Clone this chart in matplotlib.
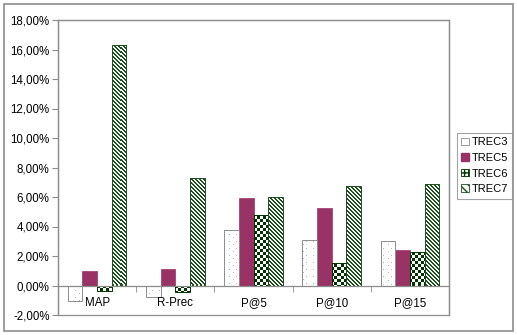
import numpy as np
import matplotlib
matplotlib.use("Agg")
import matplotlib.pyplot as plt
from matplotlib.patches import Rectangle, Patch
from matplotlib.colors import ListedColormap

plt.rcParams['font.family'] = ['Liberation Sans', 'DejaVu Sans']

categories = ["MAP", "R-Prec", "P@5", "P@10", "P@15"]
series = ["TREC3", "TREC5", "TREC6", "TREC7"]
trec3 = [-1.05, -0.75, 3.75, 3.1, 3.05]
trec5 = [1.0, 1.1, 5.9, 5.25, 2.4]
trec6 = [-0.4, -0.45, 4.75, 1.5, 2.3]
trec7 = [16.3, 7.3, 6.0, 6.75, 6.85]
yticks = [-2, 0, 2, 4, 6, 8, 10, 12, 14, 16, 18]

W, H = 517, 335
fig = plt.figure(figsize=(W / 100, H / 100), dpi=100)
fig.patches.append(Rectangle((4 / W, 4 / H), 509 / W, 327 / H, transform=fig.transFigure,
                             fill=False, edgecolor='#8c8c8c', linewidth=1.2))
ax = fig.add_axes([58 / W, 1 - 315 / H, 391 / W, 295 / H])
ax.set_xlim(-0.5, 4.5)
ax.set_ylim(-2, 18)

grey = '#8c8c8c'
x = np.arange(len(categories))
bw = 0.187
offs = [-1.5 * bw, -0.5 * bw, 0.5 * bw, 1.5 * bw]

# pixel patterns (one pixel per screen pixel of the axes)
nx, ny = 391, 295
yy, xx = np.mgrid[0:ny, 0:nx]
dots = ((xx % 7 == 3) & (yy % 7 == 3)) | ((xx % 7 == 0) & (yy % 7 == 0) & ((xx // 7) % 2 == 1))
checker = (xx // 3 + yy // 3) % 2
stripes = ((xx + yy) // 2) % 2


def fill_pattern(bars, pattern, colors, edge):
    cm = ListedColormap(colors)
    for b in bars:
        im = ax.imshow(pattern.astype(float), extent=(-0.5, 4.5, -2, 18), aspect='auto',
                       cmap=cm, vmin=0, vmax=1, interpolation='nearest', zorder=2.5,
                       origin='lower')
        im.set_clip_path(b)
    ax.bar([b.get_x() + b.get_width() / 2 for b in bars], [b.get_height() for b in bars],
           bw, fill=False, edgecolor=edge, linewidth=0.7, zorder=3)


bars3 = ax.bar(x + offs[0], trec3, bw, color='white', linewidth=0, zorder=2)
fill_pattern(bars3, dots, ['#ffffff', '#a8b4e8'], grey)

ax.bar(x + offs[1], trec5, bw, color='#993366', edgecolor='#993366', linewidth=0.5, zorder=2)

bars6 = ax.bar(x + offs[2], trec6, bw, color='white', linewidth=0, zorder=2)
fill_pattern(bars6, checker, ['#003300', '#ffffff'], '#003300')

bars7 = ax.bar(x + offs[3], trec7, bw, color='white', linewidth=0, zorder=2)
fill_pattern(bars7, stripes, ['#1e4d1e', '#f4f8f4'], '#1e4d1e')

# frame and axes
for s in ['top', 'right', 'left']:
    ax.spines[s].set_color(grey)
    ax.spines[s].set_linewidth(0.9)
ax.spines['bottom'].set_position(('data', 0))
ax.spines['bottom'].set_color(grey)
ax.spines['bottom'].set_linewidth(0.9)
ax.spines['bottom'].set_zorder(4)
ax.add_patch(Rectangle((0, 0), 1, 1, transform=ax.transAxes, fill=False,
                       edgecolor=grey, linewidth=0.9, clip_on=False, zorder=1))
ax.xaxis.set_zorder(5)

ax.set_yticks(yticks)
ax.set_yticklabels([f"{v:.2f}".replace('.', ',') + '%' for v in yticks])
ax.tick_params(axis='y', direction='out', length=4, color=grey, labelsize=8.3, pad=2)

ax.set_xticks(x)
ax.set_xticklabels(categories)
ax.set_xticks(np.arange(-0.5, 5, 1), minor=True)
ax.tick_params(axis='x', which='major', length=0, labelsize=8.3, pad=8)
ax.tick_params(axis='x', which='minor', direction='out', length=4, color=grey)

handles = [
    Patch(facecolor='white', edgecolor=grey, linewidth=0.6),
    Patch(facecolor='#993366', edgecolor='#993366'),
    Patch(facecolor='white', edgecolor='#003300', hatch='++++', linewidth=0.6),
    Patch(facecolor='#f2f7f2', edgecolor='#1e4d1e', hatch='\\\\\\\\', linewidth=0.6),
]
leg = fig.legend(handles, series, loc='upper left', bbox_to_anchor=(457 / W, 1 - 133 / H),
                 fontsize=8, frameon=True, fancybox=False, edgecolor=grey,
                 handlelength=0.65, handleheight=0.65, handletextpad=0.25,
                 borderpad=0.4, borderaxespad=0, labelspacing=0.5)
leg.get_frame().set_linewidth(0.8)

fig.savefig("out.png", dpi=100)
